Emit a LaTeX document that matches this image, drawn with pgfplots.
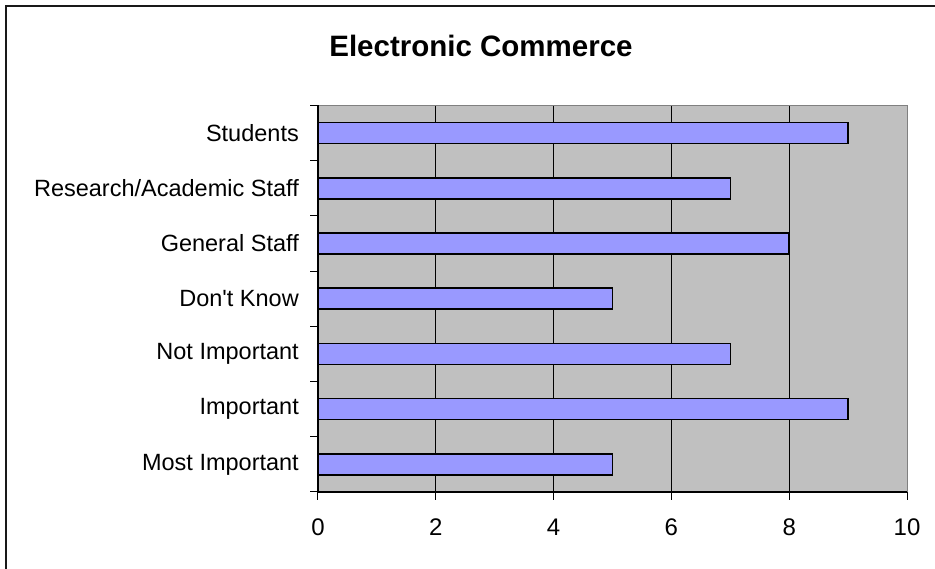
\documentclass[border=0pt]{standalone}
\usepackage{pgfplots}
\pgfplotsset{compat=1.18}
\usepackage{fontspec}
\setmainfont{Liberation Sans}[Ligatures=TeXOff]
\definecolor{barfill}{HTML}{9999FF}
\definecolor{plotbg}{HTML}{C0C0C0}
\definecolor{frame}{HTML}{808080}
\begin{document}
\begin{tikzpicture}[x=1pt,y=1pt]
\useasboundingbox (0,0) rectangle (935,569);
\draw[line width=2pt, black!90] (6,0) -- (6,563) -- (936,563);
\node[anchor=base, font=\fontsize{29.5}{34}\selectfont\bfseries, inner sep=0pt] at (481,512.3) {Electronic Commerce};
\begin{axis}[
  at={(318pt,77pt)}, anchor=south west,
  scale only axis, width=589pt, height=386.5pt,
  xmin=0, xmax=10, ymin=-0.5, ymax=6.5,
  xbar, bar width=21pt,
  axis background/.style={fill=plotbg},
  axis line style={draw=frame, line width=1pt},
  xtick={0,2,4,6,8,10},
  xtick pos=left, ytick pos=left,
  tick align=outside, major tick length=8pt,
  tick style={black, line width=1pt},
  xmajorgrids, grid style={black, line width=0.8pt},
  ytick={-0.5,0.5,1.5,2.5,3.5,4.5,5.5,6.5},
  yticklabels={Most Important,Important,Not Important,Don't Know,General Staff,Research/Academic Staff,Students,{}},
  y tick label style={font=\fontsize{23.5}{28}\selectfont, inner sep=0pt, anchor=east, yshift=27.6pt, xshift=-11pt},
  x tick label style={font=\fontsize{24}{28}\selectfont, inner sep=0pt, anchor=north, yshift=-19pt},
  /pgf/number format/assume math mode=true,
  clip=false,
]
\addplot[fill=barfill, draw=black, line width=1.5pt] coordinates {
  (5,0) (9,1) (7,2) (5,3) (8,4) (7,5) (9,6)
};
\draw[black, line width=1.5pt] (axis cs:0,-0.5) -- (axis cs:0,6.5);
\draw[black, line width=1.5pt] (axis cs:0,-0.5) -- (axis cs:10,-0.5);
\end{axis}
\end{tikzpicture}
\end{document}
